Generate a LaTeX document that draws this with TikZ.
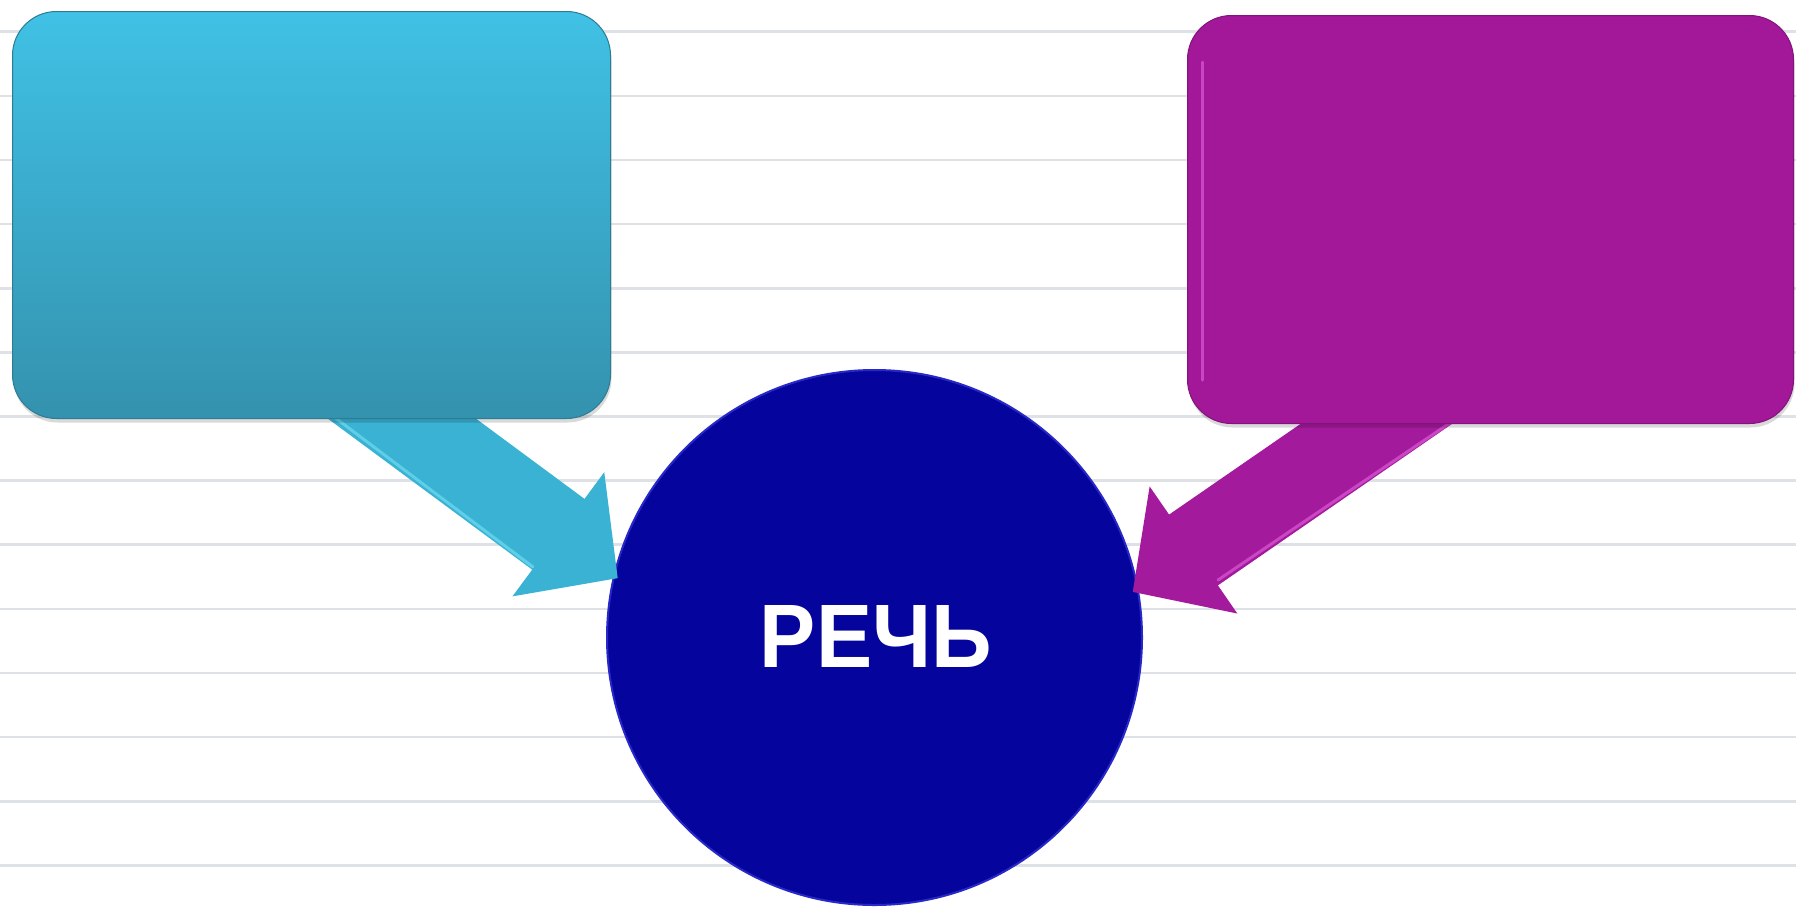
\documentclass[tikz,border=0pt]{standalone}
\usepackage{fontspec}
\setmainfont{Liberation Sans}
\newfontfamily\wordfont{Liberation Sans}
\usetikzlibrary{arrows.meta,shadows,calc}
\definecolor{cyanTop}{RGB}{64,193,229}
\definecolor{cyanBot}{RGB}{52,146,174}
\definecolor{cyanArrow}{RGB}{58,178,212}
\definecolor{cyanLight}{RGB}{120,225,245}
\definecolor{magBox}{RGB}{162,24,152}
\definecolor{magArrow}{RGB}{164,26,156}
\definecolor{magLight}{RGB}{230,100,225}
\definecolor{navy}{RGB}{5,5,158}
\definecolor{navyRim}{RGB}{40,40,200}
\definecolor{rule}{RGB}{222,226,230}
\tikzset{
  boxshape/.style={rounded corners=44pt, inner sep=0pt, anchor=north west},
  blockarrow/.style={line width=#1, -{Triangle[length=74pt,width=150pt]}},
  softshadow/.style={drop shadow={shadow xshift=1pt, shadow yshift=-4pt, opacity=0.15, fill=black}},
  bevel/.style={line width=3pt, opacity=0.6, line cap=round},
}
\begin{document}
\begin{tikzpicture}[x=1pt,y=-1pt]
\useasboundingbox (0,0) rectangle (1796,906);
\fill[white] (0,0) rectangle (1796,906);
% ruled lines
\foreach \k in {0,...,13}{
  \draw[rule, line width=2.6pt] (0,{31.7+64.13*\k}) -- (1796,{31.7+64.13*\k});
}
% central circle
\node[circle, minimum size=535pt, inner sep=0pt, fill=navy, draw=navyRim, line width=2pt] (C) at (874.5,637.5) {};
\node[text=white, inner sep=0pt] (T) at (876,636) {\resizebox{232pt}{62pt}{\wordfont\bfseries РЕЧЬ}};
% arrow start points, hidden under the boxes, and tips at the circle
\coordinate (Ls) at (328,364);
\coordinate (Rs) at (1450,373);
\coordinate (Lt) at ($(C.center)!0.981!(C.167.8)$);
\coordinate (Rt) at ($(C.center)!0.976!(C.10.9)$);
\draw[blockarrow=88pt, cyanArrow] (Ls) -- (Lt);
\draw[blockarrow=86pt, magArrow] (Rs) -- (Rt);
% bevel highlights on the arrow shafts
\draw[bevel, cyanLight] (305,395) -- (533,567);
\draw[bevel, magLight] (1472,408) -- (1218,580);
% boxes
\node[boxshape, minimum width=598pt, minimum height=407pt, top color=cyanTop, bottom color=cyanBot, draw=cyanBot!85!black, line width=1pt, softshadow] (L) at (12,11) {};
\node[boxshape, minimum width=606pt, minimum height=408pt, fill=magBox, draw=magBox!80!black, line width=1pt, softshadow] (R) at (1187,15) {};
% bevel highlight inside the magenta box
\draw[bevel, magLight] (1202,62) -- (1202,380);
\end{tikzpicture}
\end{document}
